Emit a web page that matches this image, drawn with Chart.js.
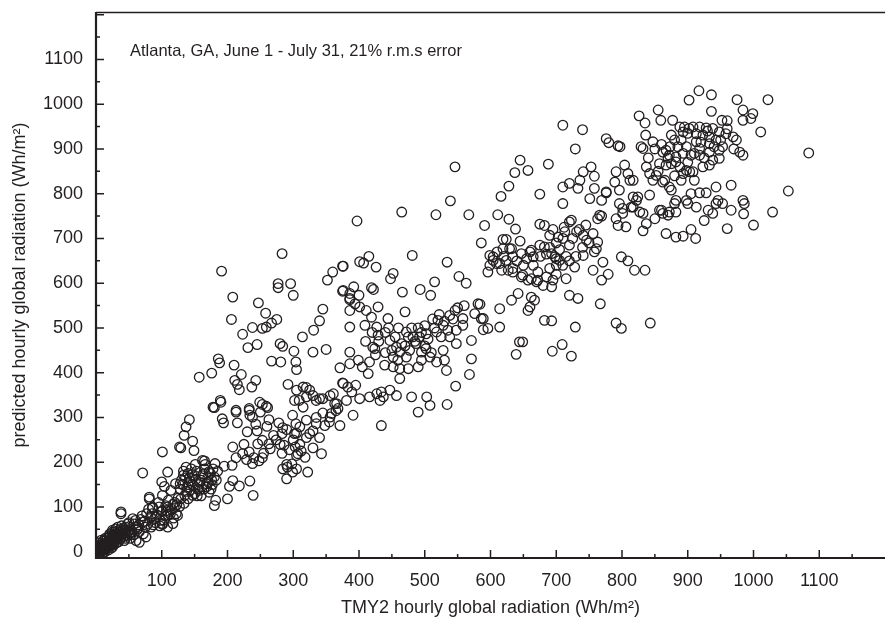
<!DOCTYPE html>
<html lang="en">
<head>
  <meta charset="UTF-8">
  <title>Atlanta TMY2 vs predicted</title>
  <script src="https://cdn.jsdelivr.net/npm/chart.js@4"></script>
  <style>
    html, body { margin: 0; padding: 0; background: #fff; overflow: hidden; }
    canvas { display: block; }
  </style>
</head>
<body>
<canvas id="myChart" width="885" height="634"></canvas>
<script>
// [TMY2 hourly global radiation, predicted hourly global radiation] in Wh/m2
const lowBand = [
  [2,2],[4,8],[6,4],[8,12],[10,6],[12,15],[14,10],[16,20],[18,14],[20,24],[22,18],[24,30],[26,22],[28,36],
  [30,28],[32,40],[34,32],[36,45],[3,-5],[7,-2],[11,3],[17,8],[21,12],[27,16],[31,20],[38,30],[5,-12],
  [0,3],[5,10],[10,18],[15,25],[20,36],[25,44],[30,51],[8,7],[13,10],[18,18],[23,27],[28,31],[3,0],[35,44],
  [33,33],[41,40],[38,89],[61,25],[66,21],[76,33],[81,122],[101,126],[86,100],[109,100],[117,63],[101,63],[122,85],
  [45,55],[50,65],[55,45],[60,70],[65,60],[70,80],[75,55],[80,95],[85,85],[90,65],[95,110],[100,90],[105,80],
  [110,115],[115,95],[120,110],[125,120],[62,48],[72,40],[88,72],[98,70],[112,90],[118,75],
  [81,118],[86,98],[96,100],[106,103],[117,106],[127,101],[124,81],[109,83],[101,92],[91,77],[77,85],[71,66],
  [84,55],[101,61],[109,55],[61,55],[51,40],[46,49],[38,85],[56,74],[43,25],[30,40],[20,33],[25,48],
  [1,-3],[2,6],[4,1],[6,14],[9,9],[12,4],[14,18],[16,12],[19,21],[22,26],[24,16],[26,34],[29,24],[32,30],
  [35,38],[37,50],[40,46],[42,34],[44,42],[9,-6],[13,-1],[15,6],[19,4],[23,8],[6,20],[11,24],[17,30],[21,40],
  [29,45],[33,55],[39,58],[47,36],[52,50],[58,62],[64,52],[68,72],[74,68],[79,62],[83,78],[87,60],[93,82],
  [97,58],[103,70],[107,92],[113,84],[119,98],[123,105],[52,30],[57,38],[48,62],[66,45],
  [42,52],[45,30],[48,44],[50,56],[53,38],[36,28],[39,40],[27,40],[14,30],[8,26],[3,14],[25,10],[34,22],[44,48]
];
const band100 = [
  [142,295],[137,279],[134,260],[127,234],[129,232],[147,247],[149,226],[101,223],[181,197],[165,203],[71,176],
  [109,178],[100,156],[104,146],[114,137],[121,152],[137,189],[151,195],[162,204],[133,171],[142,165],[152,162],
  [163,174],[172,179],[180,167],[128,152],[138,144],[148,147],[158,155],[168,152],[177,150],[135,126],[147,126],
  [172,133],[157,137],[182,115],[180,103],[130,160],[140,175],[145,185],[150,170],[155,140],[160,160],[165,185],
  [170,165],[175,140],[140,150],[150,130],[160,125],[133,180],[168,145],[178,185],
  [180,322],[190,334],[192,297],[194,288],[195,191],[191,627],[186,431],[188,422],[176,399],[157,390],[189,338],[178,323],
  [128,140],[132,150],[136,165],[143,158],[146,172],[153,180],[156,150],[162,170],[164,140],[166,195],[171,155],
  [174,175],[176,160],[138,135],[144,138],[154,125],[185,180],[183,160],[129,118],[134,108],[140,118]
];
const band200 = [
  [213,312],[233,316],[234,305],[253,329],[261,322],[250,312],[215,288],[238,301],[243,285],[263,295],[278,288],
  [284,277],[299,305],[304,286],[230,268],[208,234],[223,219],[233,223],[246,241],[253,249],[263,241],[274,250],
  [283,264],[290,273],[286,238],[294,228],[303,234],[253,210],[248,203],[238,197],[229,206],[213,210],[207,193],
  [208,159],[203,146],[218,147],[234,158],[239,126],[284,185],[291,189],[290,163],[299,178],[200,118],
  [240,210],[255,220],[265,230],[270,260],[280,240],[245,270],[260,280],[225,240],[300,250],[310,240],[320,255],
  [330,270],[305,265],[283,666],[277,599],[277,590],[296,599],[208,569],[247,556],[258,533],[206,519],[275,519],
  [267,511],[259,502],[253,499],[238,501],[223,486],[245,463],[231,456],[280,465],[284,459],[267,426],[281,424],
  [210,417],[221,396],[211,383],[215,374],[218,362],[237,368],[243,383],[292,374],[213,316],[233,320],[249,334],
  [259,325],[290,195],[283,220],[298,196]
];
const band300 = [
  [360,625],[375,638],[352,607],[375,582],[386,566],[345,542],[386,539],[331,495],[340,516],[314,480],[386,502],
  [301,448],[330,446],[350,452],[386,446],[304,424],[305,407],[371,411],[375,377],[386,420],[320,367],[309,338],
  [320,346],[330,349],[340,342],[356,349],[366,331],[381,338],[386,563],[394,554],[399,428],[305,361],[395,372],
  [302,338],[315,323],[320,294],[310,279],[325,264],[302,264],[335,286],[348,282],[356,301],[343,219],[307,219],
  [318,211],[325,361],[315,368],[335,338],[345,342],[361,353],[363,331],[368,320],[358,309],[391,305],[371,282],
  [389,357],[383,368],[376,376],[397,739],[376,638],[392,592],[386,577],[376,584],[300,573],
  [335,300],[345,310],[355,290],[365,315],[340,255],[305,215],[312,225],[330,232],[305,185],[322,178]
];
const band400 = [
  [401,547],[411,539],[419,524],[429,547],[444,521],[470,536],[409,506],[427,502],[429,484],[421,457],[424,454],
  [405,413],[414,398],[416,424],[439,417],[452,413],[459,428],[472,435],[462,409],[475,409],[490,413],[462,387],
  [447,361],[434,357],[427,353],[432,338],[437,346],[416,346],[401,342],[434,282],[457,349],[480,346],[490,312],
  [487,465],[492,480],[482,480],[472,491],[465,465],[457,457],[452,435],[447,472],[462,446],[477,450],[495,446],
  [485,470],[495,490],[470,460],[495,428],[465,759],[481,662],[415,660],[401,648],[407,645],[426,636],[452,622],
  [448,610],[419,590],[422,586],[466,580],[493,586],[400,573],
  [410,470],[420,490],[430,470],[440,490],[445,500],[455,480],[460,500],[475,480],[480,500],[490,500],
  [440,445],[450,450],[425,440]
];
const band500 = [
  [518,424],[530,428],[533,405],[503,346],[508,327],[534,329],[547,370],[568,396],[571,431],[571,472],[581,554],
  [576,532],[586,521],[596,499],[548,495],[558,506],[538,480],[548,465],[528,450],[508,435],[502,454],[502,487],
  [518,491],[528,506],[520,517],[538,528],[546,539],[558,521],[505,475],[515,500],[525,480],[535,495],[500,460],
  [510,445],[546,860],[539,784],[517,753],[567,753],[591,729],[586,690],[534,647],[552,615],[563,600],[515,603],
  [509,573],[599,662],[596,625],[599,640],[584,553],[589,521],[589,496],
  [500,505],[512,520],[522,530],[530,515],[543,520],[550,545],[560,550]
];
const band600 = [
  [645,875],[637,847],[657,852],[628,817],[616,794],[675,799],[611,753],[628,743],[638,721],[675,732],[624,698],
  [645,694],[604,651],[619,677],[629,677],[609,644],[624,651],[634,659],[647,666],[660,670],[665,659],[627,629],
  [634,625],[649,618],[662,610],[672,607],[642,577],[619,698],[632,677],[604,659],[614,644],[634,633],[617,629],
  [662,674],[675,685],[682,729],[690,707],[682,681],[693,666],[698,659],[690,633],[685,614],[695,607],[647,614],
  [657,607],[670,603],[672,625],[680,595],[693,592],[632,562],[662,569],[667,562],[660,547],[657,539],[614,543],
  [682,517],[693,516],[649,469],[644,469],[694,448],[639,441],[614,502],[690,680],[695,720],[685,665],[688,866],
  [640,650],[650,640],[655,655],[665,640],[676,660],[610,670],[620,660]
];
const band700 = [
  [703,703],[713,715],[720,737],[731,715],[741,707],[746,696],[756,711],[763,692],[761,677],[705,651],[700,640],
  [715,610],[728,636],[741,662],[758,670],[771,647],[756,629],[779,620],[769,607],[791,744],[763,744],[769,750],
  [794,729],[720,573],[733,566],[767,554],[729,502],[791,511],[799,499],[709,463],[723,437],[700,690],[705,675],
  [710,700],[715,660],[720,685],[712,725],[725,700],[700,655],[710,778],[723,741],[751,789],[769,785],[766,752],
  [796,778],[710,953],[740,943],[729,900],[753,860],[758,839],[741,849],[736,830],[720,823],[710,815],[733,812],
  [758,812],[776,804],[776,923],[780,914],[797,905],[794,907],[789,826],[776,802],[796,808],[791,849],
  [700,620],[710,640],[720,650],[730,660],[740,680],[750,690],[735,720],[745,730]
];
const band800 = [
  [799,659],[809,650],[819,629],[835,629],[801,756],[817,770],[837,733],[832,717],[850,744],[860,763],[870,752],
  [882,759],[867,711],[882,703],[806,726],[843,511],[801,767],[814,770],[822,785],[827,759],[832,756],[857,763],
  [862,756],[872,759],[880,778],[804,864],[809,845],[817,830],[812,830],[817,793],[824,793],[855,987],[826,974],
  [835,958],[859,964],[877,964],[888,949],[895,949],[893,938],[836,931],[847,916],[875,931],[880,920],[873,905],
  [885,905],[893,890],[829,905],[832,901],[862,893],[867,897],[872,886],[882,882],[857,867],[867,864],[875,867],
  [882,871],[888,860],[898,852],[837,860],[842,845],[847,830],[852,841],[862,826],[872,815],[875,808],[893,845],
  [842,797],[882,785],[893,705],[898,785],[898,905],
  [840,880],[850,900],[860,910],[870,880],[890,920],[880,840],[890,830],[855,850],[865,830]
];
const band900 = [
  [917,1030],[936,1021],[902,1009],[975,1010],[1022,1010],[936,984],[984,987],[999,979],[996,968],[984,964],
  [952,964],[960,963],[1011,938],[902,946],[908,949],[918,949],[928,947],[938,946],[913,934],[923,931],[933,927],
  [948,938],[958,934],[969,927],[974,920],[913,916],[918,901],[933,912],[943,920],[953,905],[905,886],[918,886],
  [933,893],[948,897],[979,893],[984,886],[1084,891],[908,849],[923,860],[933,864],[938,875],[948,879],[903,849],
  [910,830],[943,815],[966,819],[1053,806],[905,800],[918,802],[928,802],[946,785],[984,785],[900,778],[913,770],
  [931,763],[938,756],[943,778],[953,778],[966,763],[986,778],[1029,759],[905,720],[925,740],[960,722],[985,755],
  [1000,730],[912,700],
  [900,935],[910,890],[920,915],[930,940],[940,905],[950,920],[960,945],[970,900],[900,870],[925,880]
];

const xTickLabels = [100, 200, 300, 400, 500, 600, 700, 800, 900, 1000, 1100];
const yTickLabels = [0, 100, 200, 300, 400, 500, 600, 700, 800, 900, 1000, 1100];
const note = 'Atlanta, GA, June 1 - July 31, 21% r.m.s error';
const ink = '#231f20';

const points = [].concat(lowBand, band100, band200, band300, band400, band500, band600, band700, band800, band900)
  .map(p => ({x: p[0], y: p[1]}));

Chart.defaults.font.family = '"Liberation Sans", Arial, sans-serif';
Chart.defaults.color = ink;

// axis lines, inward ticks, top frame line and the note
const frame = {
  id: 'frame',
  afterDraw(chart) {
    const {ctx, chartArea: a, scales: {x, y}} = chart;
    ctx.save();
    ctx.strokeStyle = ink;
    ctx.lineWidth = 1.5;
    ctx.beginPath();
    ctx.moveTo(a.left, a.top + 0.5);
    ctx.lineTo(a.right, a.top + 0.5);
    ctx.stroke();

    ctx.beginPath();
    for (let v = 50; v < x.max; v += 50) {
      const px = x.getPixelForValue(v);
      ctx.moveTo(px, a.bottom);
      ctx.lineTo(px, a.bottom - (v % 100 === 0 ? 8 : 4));
    }
    for (let v = 0; v < y.max; v += 50) {
      const py = y.getPixelForValue(v);
      ctx.moveTo(a.left, py);
      ctx.lineTo(a.left + (v % 100 === 0 ? 8 : 4), py);
    }
    ctx.stroke();

    ctx.lineWidth = 2.2;
    ctx.beginPath();
    ctx.moveTo(a.left, a.top);
    ctx.lineTo(a.left, a.bottom);
    ctx.lineTo(a.right, a.bottom);
    ctx.stroke();

    ctx.fillStyle = ink;
    ctx.font = '16.5px "Liberation Sans", Arial, sans-serif';
    ctx.textBaseline = 'alphabetic';
    ctx.fillText(note, a.left + 34, a.top + 44);
    ctx.restore();
  }
};

const config = {
  type: 'scatter',
  data: {
    datasets: [{
      label: 'predicted',
      data: points,
      pointStyle: 'circle',
      pointRadius: 4.8,
      pointBorderWidth: 1.3,
      borderColor: ink,
      backgroundColor: 'rgba(0,0,0,0)'
    }]
  },
  options: {
    responsive: false,
    animation: false,
    devicePixelRatio: 1,
    layout: { autoPadding: false, padding: { top: 12, right: 0, left: 0, bottom: 0 } },
    plugins: { legend: { display: false }, tooltip: { enabled: false } },
    scales: {
      x: {
        type: 'linear',
        min: 0,
        max: 1200,
        afterBuildTicks: s => { s.ticks = xTickLabels.map(v => ({value: v})); },
        afterFit: s => { s.height = 76; s.paddingLeft = 0; s.paddingRight = 0; },
        grid: { display: false, drawTicks: false },
        border: { display: false },
        ticks: { autoSkip: false, maxRotation: 0, padding: 12, font: { size: 18 }, callback: v => String(v) },
        title: {
          display: true,
          text: 'TMY2 hourly global radiation (Wh/m²)',
          font: { size: 18 },
          padding: { top: 0, bottom: 15 }
        }
      },
      y: {
        type: 'linear',
        min: -14,
        max: 1206,
        afterBuildTicks: s => { s.ticks = yTickLabels.map(v => ({value: v})); },
        afterFit: s => { s.width = 96; s.paddingTop = 0; s.paddingBottom = 0; },
        grid: { display: false, drawTicks: false },
        border: { display: false },
        ticks: { padding: 13, font: { size: 18 }, callback: v => String(v) },
        title: {
          display: true,
          text: 'predicted hourly global radiation (Wh/m²)',
          font: { size: 18 },
          padding: { top: 9, bottom: 0 }
        }
      }
    }
  },
  plugins: [frame]
};

const myChart = new Chart(document.getElementById('myChart'), config);
</script>
</body>
</html>
